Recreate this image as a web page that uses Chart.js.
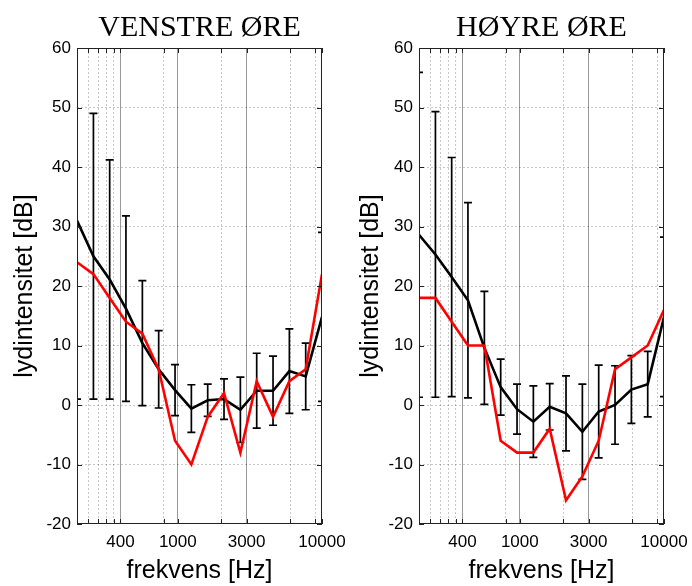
<!DOCTYPE html>
<html>
<head>
<meta charset="utf-8">
<script src="https://cdn.jsdelivr.net/npm/chart.js@4.4.1/dist/chart.umd.min.js"></script>
<style>
  body { margin: 0; background: #fff; }
  #wrap { position: relative; width: 692px; height: 586px; }
  .panel { position: absolute; top: 0; width: 346px; height: 586px; }
</style>
</head>
<body>
<div id="wrap">
  <div class="panel" style="left:0"><canvas id="venstre" width="346" height="586"></canvas></div>
  <div class="panel" style="left:346px"><canvas id="hoyre" width="346" height="586"></canvas></div>
</div>
<script>
// Frekvenser (Hz) for målepunktene
const frekvens = [200, 260, 337, 437, 568, 737, 957, 1242, 1612, 2092, 2716, 3525, 4576, 5940, 7710, 10000];

// Akser
const xTickLabels = [400, 1000, 3000, 10000];
const xGridMajor = [400, 1000, 3000];
const xGridMinor = [240, 280, 320, 360, 800, 2000, 6000, 9000];
const yMin = -20, yMax = 60, yStep = 10;

// Venstre øre: snitt, standardavvik, og person (rød)
const venstreSnitt = [31, 25, 21.1, 16.2, 10.4, 6, 2.5, -0.6, 0.8, 1.0, -0.8, 2.4, 2.4, 5.7, 4.8, 14.8];
const venstreStd   = [30, 24, 20.1, 15.6, 10.5, 6.5, 4.3, 4.0, 2.7, 3.4, 5.5, 6.3, 5.8, 7.1, 5.6, 14.2];
const venstrePers  = [24, 22, 18, 14, 12, 6, -6, -10, -2, 2, -8, 4, -2, 4, 6, 22];

// Høyre øre
const hoyreSnitt = [28.6, 25.3, 21.5, 17.6, 9.6, 3.0, -0.7, -2.8, -0.3, -1.4, -4.5, -1.1, 0, 2.6, 3.5, 14.8];
const hoyreStd   = [27.3, 24, 20.1, 16.4, 9.5, 4.7, 4.2, 6.0, 3.9, 6.3, 8.0, 7.8, 6.6, 5.7, 5.5, 13.4];
const hoyrePers  = [18, 18, 14, 10, 10, -6, -8, -8, -4, -16, -12, -6, 6, 8, 10, 16];

// Feilstolper tegnes under linjene
const errorBars = {
  id: 'errorBars',
  beforeDatasetsDraw(chart) {
    const ds = chart.data.datasets.find(d => d.sd);
    if (!ds) return;
    const {ctx, chartArea: a, scales: {x, y}} = chart;
    ctx.save();
    ctx.beginPath();
    ctx.rect(a.left, a.top, a.width, a.height);
    ctx.clip();
    ctx.strokeStyle = '#000';
    ctx.lineWidth = 1.7;
    ds.data.forEach((p, i) => {
      const px = x.getPixelForValue(p.x);
      const top = y.getPixelForValue(p.y + ds.sd[i]);
      const bot = y.getPixelForValue(p.y - ds.sd[i]);
      ctx.beginPath();
      ctx.moveTo(px, top); ctx.lineTo(px, bot);
      ctx.moveTo(px - 4, top); ctx.lineTo(px + 4, top);
      ctx.moveTo(px - 4, bot); ctx.lineTo(px + 4, bot);
      ctx.stroke();
    });
    ctx.restore();
  }
};

// Tittelen sentreres over selve plottet
const centerTitle = {
  id: 'centerTitle',
  afterLayout(chart) {
    if (chart.titleBlock) {
      chart.titleBlock.left = chart.chartArea.left;
      chart.titleBlock.right = chart.chartArea.right;
    }
  }
};

// Ramme rundt plottet med innovervendte tick-merker
const frame = {
  id: 'frame',
  afterDraw(chart) {
    const {ctx, chartArea: a, scales: {x, y}} = chart;
    ctx.save();
    ctx.strokeStyle = '#222';
    ctx.lineWidth = 1;
    ctx.strokeRect(Math.round(a.left) + 0.5, Math.round(a.top) + 0.5,
                   Math.round(a.width) - 1, Math.round(a.height) - 1);
    ctx.beginPath();
    x.ticks.forEach(t => {
      const px = Math.round(x.getPixelForValue(t.value)) + 0.5;
      ctx.moveTo(px, a.bottom); ctx.lineTo(px, a.bottom - 5);
      ctx.moveTo(px, a.top); ctx.lineTo(px, a.top + 5);
    });
    y.ticks.forEach(t => {
      const py = Math.round(y.getPixelForValue(t.value)) + 0.5;
      ctx.moveTo(a.left, py); ctx.lineTo(a.left + 5, py);
      ctx.moveTo(a.right, py); ctx.lineTo(a.right - 5, py);
    });
    ctx.stroke();
    ctx.restore();
  }
};

function makeChart(id, title, snitt, std, pers, yAxisWidth, padRight) {
  const xEdges = [frekvens[0], frekvens[frekvens.length - 1]];
  return new Chart(document.getElementById(id), {
    type: 'line',
    data: {
      datasets: [
        {
          label: 'person',
          data: frekvens.map((f, i) => ({x: f, y: pers[i]})),
          borderColor: '#ff0000',
          borderWidth: 2.6,
          pointRadius: 0,
          tension: 0
        },
        {
          label: 'snitt',
          data: frekvens.map((f, i) => ({x: f, y: snitt[i]})),
          sd: std,
          borderColor: '#000',
          borderWidth: 2.6,
          pointRadius: 0,
          tension: 0
        }
      ]
    },
    options: {
      responsive: false,
      animation: false,
      layout: { padding: { right: padRight, top: 0, bottom: 0, left: 0 } },
      scales: {
        x: {
          type: 'logarithmic',
          min: 200,
          max: 10000,
          afterBuildTicks: s => {
            s.ticks = [xEdges[0], ...xGridMinor, ...xGridMajor, xEdges[1]]
              .sort((a, b) => a - b).map(v => ({value: v}));
          },
          afterFit: s => { s.height = 62; s.paddingLeft = 0; s.paddingRight = 0; },
          ticks: {
            autoSkip: false,
            maxRotation: 0,
            padding: 8,
            color: '#000',
            font: { family: 'Liberation Sans', size: 17 },
            callback: v => xTickLabels.includes(v) ? String(v) : ''
          },
          grid: {
            drawTicks: false,
            lineWidth: 1,
            color: c => {
              const v = c.tick && c.tick.value;
              if (xEdges.includes(v)) return 'rgba(0,0,0,0)';
              return xGridMajor.includes(v) ? 'rgba(0,0,0,0.4)' : 'rgba(0,0,0,0.22)';
            }
          },
          border: {
            display: false,
            dash: c => (c.tick && xGridMajor.includes(c.tick.value)) ? [] : [2, 2]
          },
          title: {
            display: true,
            text: 'frekvens [Hz]',
            color: '#000',
            font: { family: 'Liberation Sans', size: 25 },
            padding: { top: 0, bottom: 0 }
          }
        },
        y: {
          min: yMin,
          max: yMax,
          afterFit: s => { s.width = yAxisWidth; s.paddingTop = 0; s.paddingBottom = 0; },
          ticks: {
            stepSize: yStep,
            padding: 6,
            color: '#000',
            font: { family: 'Liberation Sans', size: 17 }
          },
          grid: {
            drawTicks: false,
            lineWidth: 1,
            color: c => (c.tick && (c.tick.value === yMin || c.tick.value === yMax))
              ? 'rgba(0,0,0,0)' : 'rgba(0,0,0,0.22)'
          },
          border: { display: false, dash: [2, 2] },
          title: {
            display: true,
            text: 'lydintensitet [dB]',
            color: '#000',
            font: { family: 'Liberation Sans', size: 25 },
            padding: { top: 10, bottom: 0 }
          }
        }
      },
      plugins: {
        legend: { display: false },
        tooltip: { enabled: false },
        title: {
          display: true,
          text: title,
          color: '#000',
          font: { family: 'Liberation Serif', size: 30, weight: 'normal' },
          padding: { top: 10, bottom: 2 }
        }
      }
    },
    plugins: [errorBars, centerTitle, frame]
  });
}

makeChart('venstre', 'VENSTRE ØRE', venstreSnitt, venstreStd, venstrePers, 77, 24);
makeChart('hoyre', 'HØYRE ØRE', hoyreSnitt, hoyreStd, hoyrePers, 73, 28);
</script>
</body>
</html>
